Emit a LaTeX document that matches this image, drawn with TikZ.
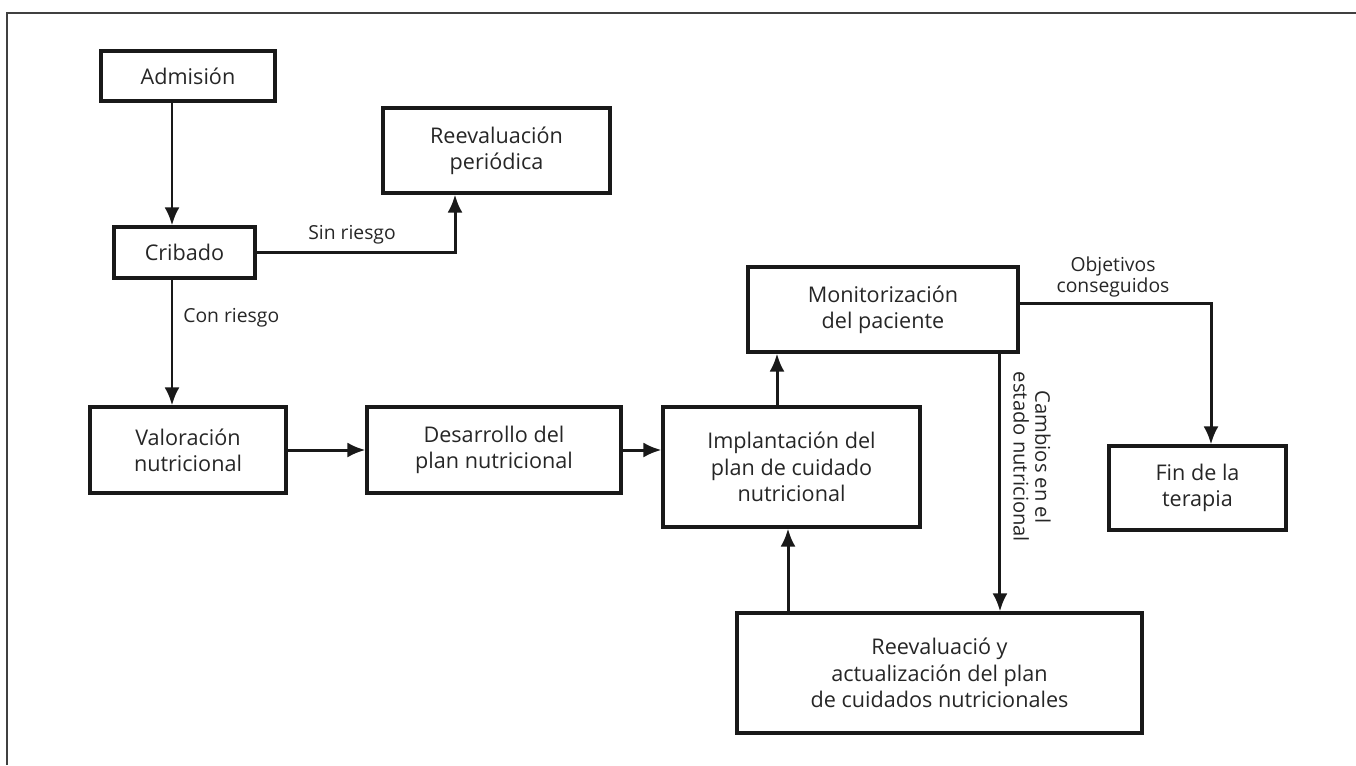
\documentclass[tikz,border=0pt]{standalone}
\usepackage{fontspec}
\setmainfont{Open Sans}
\usepackage{tikz}
\usetikzlibrary{positioning}
\usetikzlibrary{arrows.meta}

\begin{document}
\begin{tikzpicture}[x=0.02cm, y=-0.02cm,
    box/.style={draw=black!90, line width=1.8pt, align=center, inner sep=0pt, text=black!85,
        font=\fontsize{12.3}{15}\selectfont},
    lbl/.style={align=center, inner sep=0pt, text=black!85, font=\fontsize{11}{12}\selectfont},
    arr/.style={-{Latex[length=0.36cm,width=0.3cm]}, line width=1.7pt, draw=black!90}]
    \useasboundingbox (0,0) rectangle (1356,765);
    % frame
    \draw[line width=0.9pt, black!75] (7,765) -- (7,13) -- (1356,13);
    % nodes
    \node[box, minimum width=3.48cm, minimum height=1.0cm] (admision) at (188,76) {Admisión};
    \node[box, minimum width=4.54cm, minimum height=1.7cm] (reevalper) at (496.5,150.5) {Reevaluación\\periódica};
    \node[box, minimum width=2.82cm, minimum height=1.02cm] (cribado) at (184.5,252.5) {Cribado};
    \node[box, minimum width=3.92cm, minimum height=1.72cm] (valoracion) at (188,450) {Valoración\\nutricional};
    \node[box, minimum width=5.08cm, minimum height=1.72cm] (desarrollo) at (494,450) {Desarrollo del\\plan nutricional};
    \node[box, minimum width=5.14cm, minimum height=2.4cm] (implantacion) at (791.5,467) {Implantación del\\plan de cuidado\\nutricional};
    \node[box, minimum width=5.4cm, minimum height=1.7cm] (monit) at (883,309.5) {Monitorización\\del paciente};
    \node[box, minimum width=3.54cm, minimum height=1.68cm] (fin) at (1197.5,488) {Fin de la\\terapia};
    \node[box, minimum width=8.1cm, minimum height=2.4cm] (reevalact) at (939.5,673) {Reevaluació y\\actualización del plan\\de cuidados nutricionales};
    % labels
    \node[lbl] (sinriesgo) at (352,235) {Sin riesgo};
    \node[lbl, anchor=west] (conriesgo) at (183,318) {Con riesgo};
    \node[lbl] (objetivos) at (1113,277) {Objetivos\\conseguidos};
    \node[lbl, rotate=-90, font=\fontsize{11.5}{12.4}\selectfont] (cambios) at (1032,457) {Cambios en el\\estado nutricional};
    % arrows
    \draw[arr] ([xshift=-0.32cm]admision.south) -- ([xshift=-0.32cm]admision.south |- cribado.north);
    \draw[arr] (cribado.east) -| ([xshift=-0.83cm]reevalper.south);
    \draw[arr] ([xshift=-0.25cm]cribado.south) -- ([xshift=-0.25cm]cribado.south |- valoracion.north);
    \draw[arr] (valoracion.east) -- (desarrollo.west);
    \draw[arr] (desarrollo.east) -- (desarrollo.east -| implantacion.west);
    \draw[arr] ([xshift=-0.29cm]implantacion.north) -- ([xshift=-0.29cm]implantacion.north |- monit.south);
    \draw[arr] ([yshift=0.13cm]monit.east) -| ([xshift=0.27cm]fin.north);
    \draw[arr] ([xshift=2.34cm]monit.south) -- ([xshift=2.34cm]monit.south |- reevalact.north);
    \draw[arr] ([xshift=-0.07cm]implantacion.south |- reevalact.north) -- ([xshift=-0.07cm]implantacion.south);
\end{tikzpicture}
\end{document}
